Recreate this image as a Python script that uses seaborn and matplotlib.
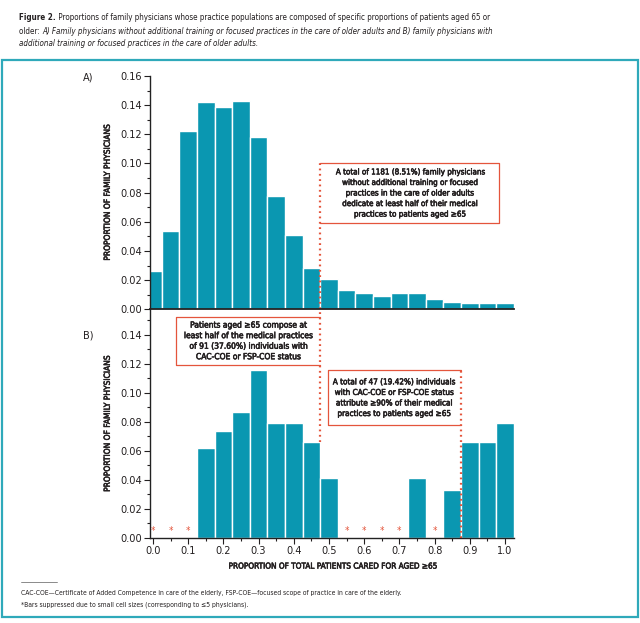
import os
import matplotlib
matplotlib.use("Agg")
import matplotlib.pyplot as plt
import seaborn as sns
import pandas as pd
from matplotlib import font_manager as fm
from matplotlib import patheffects as pe
from matplotlib.ticker import MultipleLocator, FormatStrFormatter
from matplotlib.patches import Rectangle
from matplotlib.lines import Line2D

# bin centres (proportion of patients aged >=65), width 0.05
bin_centers = [0.0, 0.05, 0.1, 0.15, 0.2, 0.25, 0.3, 0.35, 0.4, 0.45, 0.5,
               0.55, 0.6, 0.65, 0.7, 0.75, 0.8, 0.85, 0.9, 0.95, 1.0]
# A) no added training / focused practice
props_a = [0.026, 0.054, 0.122, 0.142, 0.139, 0.143, 0.118, 0.078, 0.051, 0.028, 0.021,
           0.013, 0.011, 0.009, 0.011, 0.011, 0.007, 0.005, 0.0045, 0.0045, 0.0045]
# B) CAC-COE or FSP-COE, None = suppressed bar
props_b = [None, None, None, 0.062, 0.074, 0.087, 0.116, 0.079, 0.079, 0.066, 0.041,
           None, None, None, None, 0.041, None, 0.033, 0.066, 0.066, 0.079]

note_a = ("A total of 1181 (8.51%) family physicians\nwithout additional training or focused\n"
          "practices in the care of older adults\ndedicate at least half of their medical\n"
          "practices to patients aged ≥65")
note_b1 = ("Patients aged ≥65 compose at\nleast half of the medical practices\n"
           "of 91 (37.60%) individuals with\nCAC-COE or FSP-COE status")
note_b2 = ("A total of 47 (19.42%) individuals\nwith CAC-COE or FSP-COE status\n"
           "attribute ≥90% of their medical\npractices to patients aged ≥65")

BAR = "#0a97b1"
RED = "#e4553c"
TEAL = "#2fa9ba"
INK = "#231f20"


def weight_num(w):
    return w if isinstance(w, int) else fm.weight_dict.get(w, 400)


# the source uses a condensed face: find one with regular / bold / italic files
groups = {}
for f in fm.fontManager.ttflist:
    fn = os.path.basename(f.fname).lower()
    if ("condensed" in fn or "narrow" in fn) and "mono" not in fn and "serif" not in fn \
            and "semicond" not in fn and "extracond" not in fn and "ultracond" not in fn:
        groups.setdefault(f.name, []).append(f)

faces = {}
for name, fl in groups.items():
    reg = [f for f in fl if f.style == "normal" and weight_num(f.weight) == 400]
    bold = [f for f in fl if f.style == "normal" and weight_num(f.weight) == 700]
    ital = [f for f in fl if f.style != "normal" and weight_num(f.weight) == 400]
    if reg and bold:
        faces = {"family": name, "stretch": reg[0].stretch, "reg": reg[0].fname,
                 "bold": bold[0].fname, "ital": (ital or reg)[0].fname}
        break


def fp(kind, size):
    if faces:
        return fm.FontProperties(fname=faces[kind], size=size)
    return fm.FontProperties(family="Roboto", size=size,
                             weight="bold" if kind == "bold" else "normal",
                             style="italic" if kind == "ital" else "normal")


# regular face with a thin outline reads like the medium weight of the source
HEAVY = [pe.withStroke(linewidth=0.4, foreground=INK)]

sns.set_theme(style="ticks")
plt.rcParams["font.family"] = [faces.get("family", "Roboto"), "DejaVu Sans"]
plt.rcParams["font.stretch"] = faces.get("stretch", "normal")
plt.rcParams["text.color"] = INK
plt.rcParams["axes.labelcolor"] = INK
plt.rcParams["xtick.color"] = INK
plt.rcParams["ytick.color"] = INK

W, H = 640, 623
fig = plt.figure(figsize=(W / 100, H / 100), dpi=100)
renderer = fig.canvas.get_renderer()


def px_axes(l, t, r, b):
    return fig.add_axes([l / W, 1 - b / H, (r - l) / W, (b - t) / H])


def fit(t, target_px):
    # resize text so its line length matches the source
    bb = t.get_window_extent(renderer=renderer)
    length = bb.height if t.get_rotation() in (90, 270) else bb.width
    t.set_fontsize(t.get_fontsize() * target_px / length)


df = pd.DataFrame({"center": bin_centers, "a": props_a, "b": props_b})
df["suppressed"] = df["b"].isna()
df["b"] = df["b"].fillna(0.0)

ax_a = px_axes(150, 76, 513.8, 309.3)
ax_b = px_axes(150, 310, 513.8, 537.7)

for ax, col in [(ax_a, "a"), (ax_b, "b")]:
    sns.histplot(data=df, x="center", weights=col, binwidth=0.05, binrange=(-0.025, 1.025),
                 color=BAR, alpha=1, edgecolor="white", linewidth=1, ax=ax)
    ax.set_xlim(-0.0085, 1.025)
    ax.yaxis.set_major_locator(MultipleLocator(0.02))
    ax.yaxis.set_minor_locator(MultipleLocator(0.01))
    ax.yaxis.set_major_formatter(FormatStrFormatter("%.2f"))
    ax.tick_params(axis="both", which="major", length=4, width=0.8, labelsize=7.8, pad=2)
    ax.tick_params(axis="both", which="minor", length=2.5, width=0.8)
    ax.set_ylabel("PROPORTION OF FAMILY PHYSICIANS", fontproperties=fp("reg", 7),
                  path_effects=HEAVY)
    ax.yaxis.set_label_coords(-0.105, 0.5)
    fit(ax.yaxis.label, 137)
    for s in ["left", "bottom"]:
        ax.spines[s].set_color("#222222")
        ax.spines[s].set_linewidth(1.0)
    sns.despine(ax=ax)

ax_a.set_ylim(0, 0.16)
ax_a.set_xticks([])
ax_a.set_xlabel("")
ax_a.spines["bottom"].set_linewidth(1.3)

ax_b.set_ylim(0, 0.1572)
ax_b.xaxis.set_major_locator(MultipleLocator(0.1))
ax_b.xaxis.set_minor_locator(MultipleLocator(0.05))
ax_b.xaxis.set_major_formatter(FormatStrFormatter("%.1f"))
ax_b.set_xlabel("PROPORTION OF TOTAL PATIENTS CARED FOR AGED ≥65",
                fontproperties=fp("reg", 7), path_effects=HEAVY, labelpad=4)
fit(ax_b.xaxis.label, 209)

# asterisks for suppressed bars
for xc in df.loc[df["suppressed"], "center"]:
    ax_b.text(xc, 0.0045, "*", color=RED, fontsize=7, ha="center", va="center",
              family=["DejaVu Sans"])


def note_box(ax, x0, x1, y0, y1, text, open_side, width_px):
    # three solid sides, the fourth is the dotted marker line
    xs = {"left": [x0, x1, x1, x0], "right": [x1, x0, x0, x1]}[open_side]
    ys = [y1, y1, y0, y0]
    ax.add_line(Line2D(xs, ys, color=RED, lw=0.9, clip_on=False))
    t = ax.text((x0 + x1) / 2, (y0 + y1) / 2, text, ha="center", va="center",
                fontproperties=fp("reg", 7), linespacing=1.22, color=INK,
                path_effects=HEAVY)
    fit(t, width_px)


dots = dict(color=RED, lw=1.6, linestyle=(0, (0.8, 1.6)), clip_on=False)

# panel A marker at 0.475
ax_a.vlines(0.475, 0, 0.1001, **dots)
note_box(ax_a, 0.475, 0.983, 0.0594, 0.1001, note_a, "left", 150)

# panel B markers
ax_b.vlines(0.475, df.loc[9, "b"], 0.1572, **dots)
note_box(ax_b, 0.065, 0.475, 0.1193, 0.1524, note_b1, "right", 130)
ax_b.vlines(0.875, 0, 0.1157, **dots)
note_box(ax_b, 0.496, 0.875, 0.0776, 0.1157, note_b2, "right", 123)

fig.text(88 / W, 1 - 77 / H, "A)", fontsize=7.8, ha="center", va="center")
fig.text(88 / W, 1 - 335 / H, "B)", fontsize=7.8, ha="center", va="center")

# frame around the figure body
fig.add_artist(Rectangle((2 / W, 1 - 617 / H), 636 / W, 557 / H, transform=fig.transFigure,
                         fill=False, edgecolor=TEAL, lw=1.6))


# title, chained pieces with different styles
def chain(pieces, x_px, y_px, size):
    x = x_px / W
    for s, kind in pieces:
        t = fig.text(x, 1 - y_px / H, s, fontproperties=fp(kind, size), va="center", ha="left")
        x += t.get_window_extent(renderer=renderer).width / W


title_1 = [("Figure 2.", "bold"),
           (" Proportions of family physicians whose practice populations are composed of "
            "specific proportions of patients aged 65 or", "reg")]
probe = fig.text(0, 0, "".join(s for s, _ in title_1), fontproperties=fp("reg", 10))
title_size = 10 * 464 / probe.get_window_extent(renderer=renderer).width
probe.remove()

chain(title_1, 19, 18, title_size)
chain([("older: ", "reg"),
       ("A) Family physicians without additional training or focused practices in the care "
        "of older adults and B) family physicians with", "ital")], 19, 31, title_size)
chain([("additional training or focused practices in the care of older adults.", "ital")],
      19, 43.5, title_size)

# footnotes
fig.add_artist(Line2D([21 / W, 57 / W], [1 - 582 / H, 1 - 582 / H], color="#777777", lw=0.6))
foot1 = fig.text(21 / W, 1 - 593 / H, "CAC-COE—Certificate of Added Competence in care of the "
                 "elderly, FSP-COE—focused scope of practice in care of the elderly.",
                 fontproperties=fp("reg", 6.5), va="center")
fit(foot1, 383)
fig.text(21 / W, 1 - 604.5 / H, "*Bars suppressed due to small cell sizes "
         "(corresponding to ≤5 physicians).", fontproperties=fp("reg", foot1.get_fontsize()),
         va="center")

fig.savefig("out.png", dpi=100)
